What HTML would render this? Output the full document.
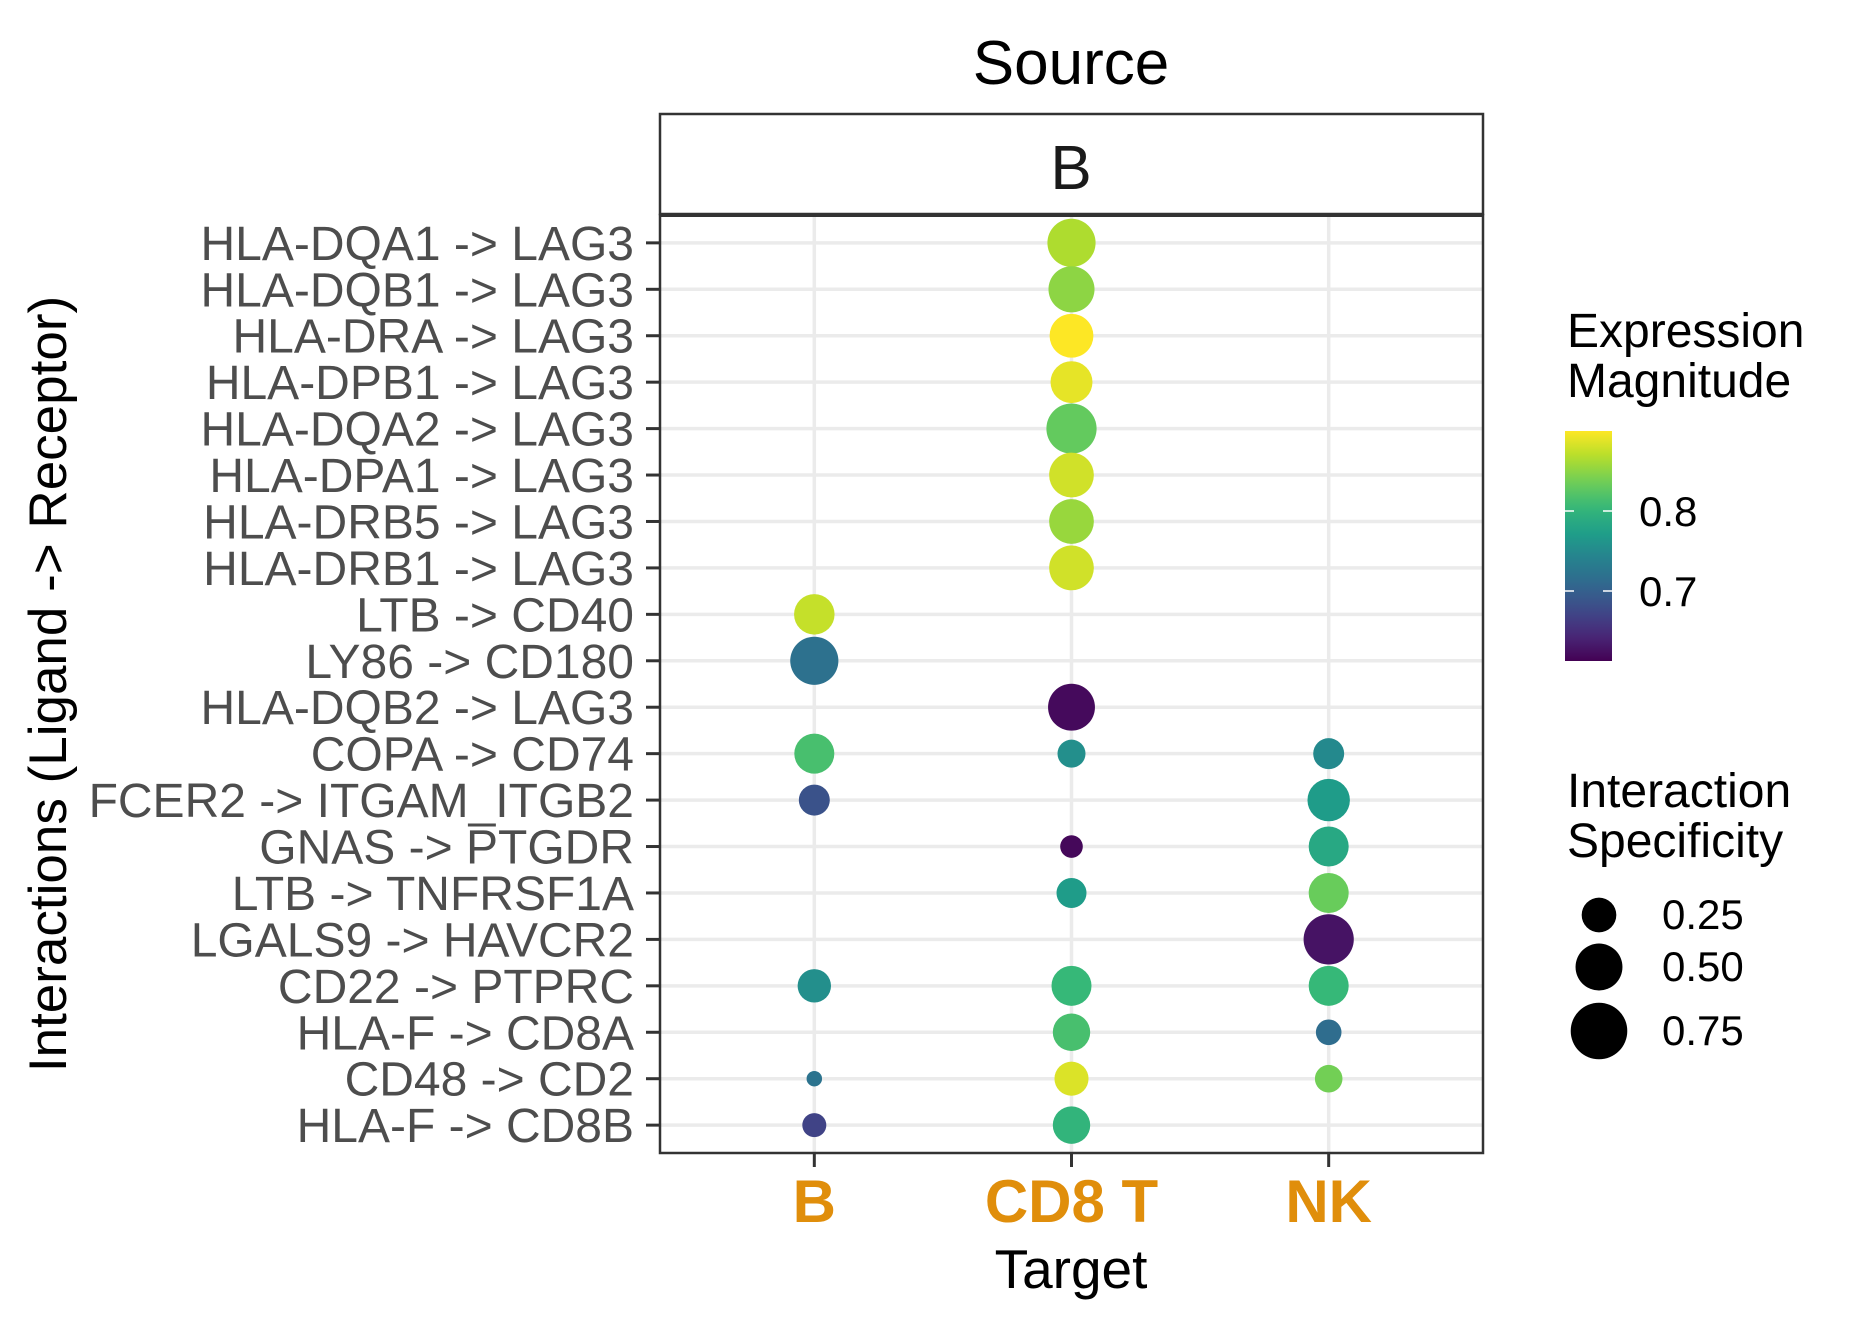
<!DOCTYPE html>
<html><head><meta charset="utf-8"><style>
html,body{margin:0;padding:0;background:#fff}
svg{display:block}
text{font-family:"Liberation Sans",Arial,sans-serif}
</style></head><body>
<svg id="chart" width="1856" height="1324" viewBox="0 0 1856 1324" xmlns="http://www.w3.org/2000/svg">
<text x="1071" y="84" font-size="62" text-anchor="middle" fill="#000">Source</text>
<rect x="660" y="114" width="823" height="100" fill="#fff" stroke="#333" stroke-width="2.5"/>
<text x="1071" y="189" font-size="62" text-anchor="middle" fill="#1a1a1a">B</text>
<g id="grid"></g>
<g id="marks"></g>
<rect x="660" y="215" width="823" height="938" fill="none" stroke="#333" stroke-width="2.5"/>
<line x1="660" y1="215" x2="1483" y2="215" stroke="#333" stroke-width="4"/>
<g id="yaxis"></g>
<g id="xaxis"></g>
<text x="1071" y="1288" font-size="55" text-anchor="middle" fill="#000">Target</text>
<text transform="translate(66,684) rotate(-90)" font-size="53" text-anchor="middle" fill="#000">Interactions (Ligand -&gt; Receptor)</text>
<g>
<text x="1567" y="347" font-size="48" fill="#000">Expression</text>
<text x="1567" y="397" font-size="48" fill="#000">Magnitude</text>
<defs><linearGradient id="vir" x1="0" y1="1" x2="0" y2="0"></linearGradient></defs>
<rect x="1565" y="431" width="47" height="230" fill="url(#vir)"/>
<g id="cticks"></g>
</g>
<g>
<text x="1567" y="807" font-size="48" fill="#000">Interaction</text>
<text x="1567" y="857" font-size="48" fill="#000">Specificity</text>
<g id="sizeleg"></g>
</g>
</svg>
<script>
const rowLabels = ["HLA-DQA1 -> LAG3","HLA-DQB1 -> LAG3","HLA-DRA -> LAG3","HLA-DPB1 -> LAG3","HLA-DQA2 -> LAG3","HLA-DPA1 -> LAG3","HLA-DRB5 -> LAG3","HLA-DRB1 -> LAG3","LTB -> CD40","LY86 -> CD180","HLA-DQB2 -> LAG3","COPA -> CD74","FCER2 -> ITGAM_ITGB2","GNAS -> PTGDR","LTB -> TNFRSF1A","LGALS9 -> HAVCR2","CD22 -> PTPRC","HLA-F -> CD8A","CD48 -> CD2","HLA-F -> CD8B"];
const targets = ["B","CD8 T","NK"];
const pointRow = [0,1,2,3,4,5,6,7,8,9,10,11,11,11,12,12,13,13,14,14,15,16,16,16,17,17,18,18,18,19,19];
const pointTarget = [1,1,1,1,1,1,1,1,0,0,1,0,1,2,0,2,1,2,1,2,2,0,1,2,1,2,0,1,2,0,1];
const magnitude = [0.865,0.85,0.9,0.89,0.83,0.88,0.855,0.88,0.875,0.72,0.62,0.815,0.755,0.748,0.685,0.77,0.618,0.785,0.77,0.833,0.627,0.755,0.805,0.805,0.815,0.714,0.722,0.885,0.838,0.67,0.8];
const specificity = [0.53,0.48,0.43,0.39,0.58,0.45,0.45,0.45,0.36,0.53,0.5,0.35,0.146,0.19,0.19,0.4,0.078,0.35,0.175,0.35,0.58,0.229,0.35,0.35,0.3,0.114,0.01,0.24,0.14,0.094,0.3];
const colorTicks = [0.7,0.8];
const sizeTicks = [0.25,0.5,0.75];
const colorDomain = [0.6125,0.9];

const NS="http://www.w3.org/2000/svg";
function mk(tag,attrs,parent){const e=document.createElementNS(NS,tag);for(const k in attrs)e.setAttribute(k,attrs[k]);parent.appendChild(e);return e;}
const P={l:660,r:1483,t:215,b:1153};
const yStep=(P.b-P.t)/(rowLabels.length-1+1.2);
function yPos(i){return P.t+(i+0.6)*yStep;}
const xStep=(P.r-P.l)/(targets.length-1+1.2);
function xPos(j){return P.l+(j+0.6)*xStep;}
function rad(v){return Math.sqrt(50+1000*Math.max(v,0));}
const vs=[[68,1,84],[72,40,120],[62,74,137],[49,104,142],[38,130,142],[31,158,137],[53,183,121],[110,206,88],[181,222,43],[253,231,37]];
function viridis(t){t=Math.max(0,Math.min(1,t));const f=t*(vs.length-1);const i=Math.min(Math.floor(f),vs.length-2);const u=f-i;const c=vs[i].map((a,k)=>Math.round(a+(vs[i+1][k]-a)*u));return `rgb(${c[0]},${c[1]},${c[2]})`;}
function cval(v){return (v-colorDomain[0])/(colorDomain[1]-colorDomain[0]);}

const grid=document.getElementById('grid');
rowLabels.forEach((lab,i)=>{
  const l=mk('line',{x1:P.l,x2:P.r,y1:yPos(i),y2:yPos(i),stroke:'#ebebeb','stroke-width':3.5},grid);
  
  
});
targets.forEach((t,j)=>{
  const l=mk('line',{x1:xPos(j),x2:xPos(j),y1:P.t,y2:P.b,stroke:'#ebebeb','stroke-width':3.5},grid);
  
  
});
const ya=document.getElementById('yaxis');
rowLabels.forEach((lab,i)=>{
  const tk=mk('line',{x1:P.l-14,x2:P.l,y1:yPos(i),y2:yPos(i),stroke:'#333','stroke-width':3},ya);
  
  
  const t=mk('text',{x:634,y:yPos(i)+17,'font-size':48,'text-anchor':'end',fill:'#4d4d4d'},ya);
  t.textContent=lab;
  
  
});
const xa=document.getElementById('xaxis');
targets.forEach((lab,j)=>{
  const tk=mk('line',{x1:xPos(j),x2:xPos(j),y1:P.b,y2:P.b+14,stroke:'#333','stroke-width':3},xa);
  
  
  const t=mk('text',{x:xPos(j),y:1222,'font-size':60,'font-weight':'bold','text-anchor':'middle',fill:'#E08E0B'},xa);
  t.textContent=lab;
  
  
});
const marks=document.getElementById('marks');
pointRow.forEach((r,k)=>{
  const c=mk('circle',{cx:xPos(pointTarget[k]),cy:yPos(r),r:rad(specificity[k]),fill:viridis(cval(magnitude[k]))},marks);
  
  
});
const grad=document.getElementById('vir');
for(let i=0;i<=20;i++){mk('stop',{offset:(i*5)+'%','stop-color':viridis(i/20)},grad);}
const ct=document.getElementById('cticks');
const cbTop=431,cbBot=661;
function cy(v){return cbBot-cval(v)*(cbBot-cbTop);}
colorTicks.forEach(v=>{
  const a=mk('line',{x1:1565,x2:1574,y1:cy(v),y2:cy(v),stroke:'#fff','stroke-width':1.5},ct);
  
  
  const b=mk('line',{x1:1603,x2:1612,y1:cy(v),y2:cy(v),stroke:'#fff','stroke-width':1.5},ct);
  
  
  const t=mk('text',{x:1639,y:cy(v)+15,'font-size':42,fill:'#000'},ct);
  t.textContent=v.toFixed(1);
  
  
});
const sl=document.getElementById('sizeleg');
const sy=[915,967,1031];
sizeTicks.forEach((v,i)=>{
  const c=mk('circle',{cx:1599,cy:sy[i],r:rad(v),fill:'#000'},sl);
  
  
  const t=mk('text',{x:1662,y:sy[i]+14,'font-size':42,fill:'#000'},sl);
  t.textContent=v.toFixed(2);
  
  
});
</script>
</body></html>
